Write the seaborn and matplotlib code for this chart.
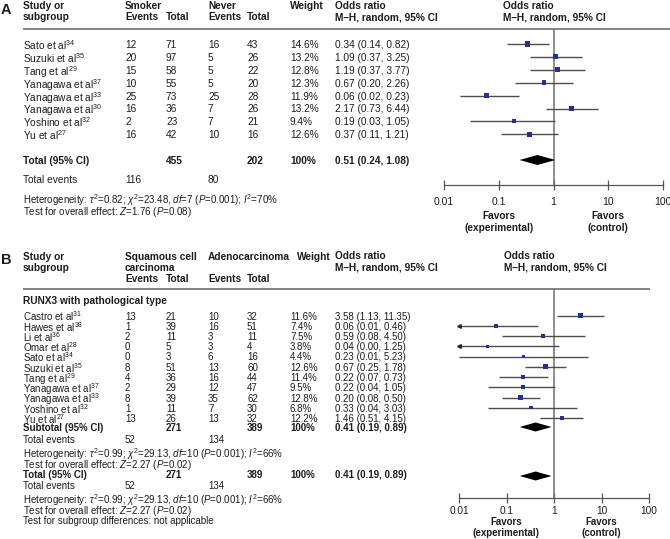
import matplotlib
matplotlib.use("Agg")
import matplotlib.pyplot as plt
import numpy as np
import pandas as pd
import seaborn as sns

# ---- panel A: smoker vs never ----
a_studies = ["Sato et al$^{34}$", "Suzuki et al$^{35}$", "Tang et al$^{29}$", "Yanagawa et al$^{37}$",
             "Yanagawa et al$^{33}$", "Yanagawa et al$^{30}$", "Yoshino et al$^{32}$", "Yu et al$^{27}$"]
a_smoker_events = [12, 20, 15, 10, 25, 16, 2, 16]
a_smoker_total = [71, 97, 58, 55, 73, 36, 23, 42]
a_never_events = [16, 5, 5, 5, 25, 7, 7, 10]
a_never_total = [43, 26, 22, 20, 28, 26, 21, 16]
a_weight = [14.6, 13.2, 12.8, 12.3, 11.9, 13.2, 9.4, 12.6]
a_or = [0.34, 1.09, 1.19, 0.67, 0.06, 2.17, 0.19, 0.37]
a_lo = [0.14, 0.37, 0.37, 0.20, 0.02, 0.73, 0.03, 0.11]
a_hi = [0.82, 3.25, 3.77, 2.26, 0.23, 6.44, 1.05, 1.21]
a_total_n = [455, 202]
a_total_events = [116, 80]
a_pooled = [0.51, 0.24, 1.08]
a_het = r"Heterogeneity: $\tau^2$=0.82; $\chi^2$=23.48, $df$=7 ($P$=0.001); $I^2$=70%"
a_effect = r"Test for overall effect: $Z$=1.76 ($P$=0.08)"

# ---- panel B: squamous vs adeno ----
b_studies = ["Castro et al$^{31}$", "Hawes et al$^{38}$", "Li et al$^{36}$", "Omar et al$^{28}$",
             "Sato et al$^{34}$", "Suzuki et al$^{35}$", "Tang et al$^{29}$", "Yanagawa et al$^{37}$",
             "Yanagawa et al$^{33}$", "Yoshino et al$^{32}$", "Yu et al$^{27}$"]
b_sq_events = [13, 1, 2, 0, 0, 8, 4, 2, 8, 1, 13]
b_sq_total = [21, 39, 11, 5, 3, 51, 36, 29, 39, 11, 26]
b_ad_events = [10, 16, 3, 3, 6, 13, 16, 12, 35, 7, 13]
b_ad_total = [32, 51, 11, 4, 16, 60, 44, 47, 62, 30, 32]
b_weight = [11.6, 7.4, 7.5, 3.8, 4.4, 12.6, 11.4, 9.5, 12.8, 6.8, 12.2]
b_or = [3.58, 0.06, 0.59, 0.04, 0.23, 0.67, 0.22, 0.22, 0.20, 0.33, 1.46]
b_lo = [1.13, 0.01, 0.08, 0.00, 0.01, 0.25, 0.07, 0.04, 0.08, 0.04, 0.51]
b_hi = [11.35, 0.46, 4.50, 1.25, 5.23, 1.78, 0.73, 1.05, 0.50, 3.03, 4.15]
b_arrow_left = [False, True, False, True, False, False, False, False, False, False, False]
b_total_n = [271, 389]
b_total_events = [52, 134]
b_pooled = [0.41, 0.19, 0.89]
b_het = r"Heterogeneity: $\tau^2$=0.99; $\chi^2$=29.13, $df$=10 ($P$=0.001); $I^2$=66%"
b_effect = r"Test for overall effect: $Z$=2.27 ($P$=0.02)"

tick_values = [0.01, 0.1, 1, 10, 100]
tick_labels = ["0.01", "0.1", "1", "10", "100"]

W, H = 670, 539
INK = "#1c1c1c"
SQUARE = "#26308f"
CI_LINE = "#4d4d4d"
RULE = "#7a7a7a"
FS_A = 7.3
FS_B = 7.0

sns.set_theme(style="white")
plt.rcParams["font.family"] = ["Liberation Sans", "DejaVu Sans"]
plt.rcParams["mathtext.fontset"] = "custom"
plt.rcParams["mathtext.rm"] = "Liberation Sans"
plt.rcParams["mathtext.it"] = "Liberation Sans:italic"
plt.rcParams["mathtext.bf"] = "Liberation Sans:bold"

fig = plt.figure(figsize=(6.7, 5.39), dpi=100)
bg = fig.add_axes([0, 0, 1, 1])
bg.set_xlim(0, W)
bg.set_ylim(H, 0)
bg.axis("off")


def txt(x, y, s, bold=False, size=FS_A, ha="left"):
    bg.text(x, y, s, fontsize=size, fontweight="bold" if bold else "normal",
            ha=ha, va="center_baseline", color=INK)


def forest_axes(x0, x1, y0, y1):
    ax = fig.add_axes([x0 / W, 1 - y1 / H, (x1 - x0) / W, (y1 - y0) / H])
    ax.patch.set_alpha(0)
    return ax


def finish_forest(ax, y0, y1, pad, labelsize):
    ax.set_xscale("log")
    ax.set_xlim(0.01, 100)
    ax.set_ylim(y1, y0)
    ax.plot([1, 1], [y0, y1], color="#707070", lw=1.1, zorder=1)
    for side in ("left", "right", "top"):
        ax.spines[side].set_visible(False)
    ax.spines["bottom"].set_color("#555555")
    ax.spines["bottom"].set_linewidth(0.9)
    ax.set_yticks([])
    ax.set_xticks(tick_values)
    ax.set_xticklabels(tick_labels)
    ax.xaxis.set_minor_locator(matplotlib.ticker.NullLocator())
    ax.tick_params(axis="x", direction="inout", length=7, width=0.9, color="#555555",
                   labelsize=labelsize, pad=pad, labelcolor=INK, bottom=True)
    ax.set_xlabel("")
    ax.set_ylabel("")


def draw_studies(ax, rows, ors, los, his, weights, sizes, arrows=None):
    df = pd.DataFrame({"y": rows, "or": ors, "lo": np.clip(los, 0.01, None),
                       "hi": his, "weight": weights})
    ax.hlines(df["y"], df["lo"], df["hi"], color=CI_LINE, lw=1.0, zorder=2)
    sns.scatterplot(data=df, x="or", y="y", size="weight", sizes=sizes, marker="s",
                    color=SQUARE, linewidth=0, legend=False, ax=ax, zorder=3)
    if arrows is not None:
        for yy, flag in zip(rows, arrows):
            if flag:
                ax.plot(0.01, yy, marker="<", ms=2.6, color="#222222", clip_on=False, zorder=3)


def diamond(ax, y, pooled, half):
    est, lo, hi = pooled
    ax.fill([lo, est, hi, est], [y, y - half, y, y + half], color="black", lw=0, zorder=3)


def fmt_or(o, l, h):
    return f"{o:.2f} ({l:.2f}, {h:.2f})"


# column x positions
X_STUDY, X_E1, X_T1, X_E2, X_T2, X_W, X_OR, X_PLOT = 23, 125, 166, 208, 247, 290, 335, 503

# ================= Panel A =================
txt(1, 8, "A", bold=True, size=10.5)
txt(X_STUDY, 5, "Study or", bold=True)
txt(X_STUDY, 16, "subgroup", bold=True)
txt(X_E1, 5, "Smoker", bold=True)
txt(X_E1, 16, "Events", bold=True)
txt(X_T1, 16, "Total", bold=True)
txt(X_E2, 5, "Never", bold=True)
txt(X_E2, 16, "Events", bold=True)
txt(X_T2, 16, "Total", bold=True)
txt(X_W, 5, "Weight", bold=True)
for xx in (X_OR, X_PLOT):
    txt(xx, 5, "Odds ratio", bold=True)
    txt(xx, 16, "M\u2013H, random, 95% CI", bold=True)
bg.hlines(29, X_STUDY, W, color=RULE, lw=1.3)

a_rows = 44 + 12.9 * np.arange(len(a_studies))
for i, yy in enumerate(a_rows):
    txt(X_STUDY, yy, a_studies[i])
    txt(X_E1, yy, str(a_smoker_events[i]))
    txt(X_T1, yy, str(a_smoker_total[i]))
    txt(X_E2, yy, str(a_never_events[i]))
    txt(X_T2, yy, str(a_never_total[i]))
    txt(X_W, yy, f"{a_weight[i]:.1f}%")
    txt(X_OR, yy, fmt_or(a_or[i], a_lo[i], a_hi[i]))

txt(X_STUDY, 160, "Total (95% CI)", bold=True)
txt(X_T1, 160, str(a_total_n[0]), bold=True)
txt(X_T2, 160, str(a_total_n[1]), bold=True)
txt(X_W, 160, "100%", bold=True)
txt(X_OR, 160, fmt_or(*a_pooled), bold=True)
txt(X_STUDY, 179, "Total events")
txt(X_E1, 179, str(a_total_events[0]))
txt(X_E2, 179, str(a_total_events[1]))
txt(X_STUDY, 198, a_het, size=7.0)
txt(X_STUDY, 210, a_effect, size=7.0)

axA = forest_axes(444, 663, 29, 185)
draw_studies(axA, a_rows, a_or, a_lo, a_hi, a_weight, (8, 14))
diamond(axA, 160, a_pooled, 5)
finish_forest(axA, 29, 185, 5, 7.5)
txt(499, 215, "Favors", bold=True, ha="center")
txt(499, 227, "(experimental)", bold=True, ha="center")
txt(608, 215, "Favors", bold=True, ha="center")
txt(608, 227, "(control)", bold=True, ha="center")

# ================= Panel B =================
txt(1, 258, "B", bold=True, size=10.5)
txt(X_STUDY, 256, "Study or", bold=True)
txt(X_STUDY, 267, "subgroup", bold=True)
txt(X_E1, 256, "Squamous cell", bold=True)
txt(X_E1, 267, "carcinoma", bold=True)
txt(X_E2, 256, "Adenocarcinoma", bold=True)
txt(297, 256, "Weight", bold=True)
for xx in (X_E1, X_E2):
    txt(xx, 278, "Events", bold=True)
txt(X_T1, 278, "Total", bold=True)
txt(X_T2, 278, "Total", bold=True)
for xx in (X_OR, X_PLOT + 1):
    txt(xx, 255, "Odds ratio", bold=True)
    txt(xx, 266, "M\u2013H, random, 95% CI", bold=True)
bg.hlines(289, X_STUDY, 650, color=RULE, lw=1.3)
txt(X_STUDY, 300, "RUNX3 with pathological type", bold=True)

b_rows = 315.5 + 10.25 * np.arange(len(b_studies))
for i, yy in enumerate(b_rows):
    txt(X_STUDY, yy, b_studies[i], size=FS_B)
    txt(X_E1, yy, str(b_sq_events[i]), size=FS_B)
    txt(X_T1, yy, str(b_sq_total[i]), size=FS_B)
    txt(X_E2, yy, str(b_ad_events[i]), size=FS_B)
    txt(X_T2, yy, str(b_ad_total[i]), size=FS_B)
    txt(X_W, yy, f"{b_weight[i]:.1f}%", size=FS_B)
    txt(X_OR, yy, fmt_or(b_or[i], b_lo[i], b_hi[i]), size=FS_B)

for y_tot, y_ev, y_het, y_eff, label in ((427, 439, 452, 463, "Subtotal (95% CI)"),
                                         (474, 485, 498, 509, "Total (95% CI)")):
    txt(X_STUDY, y_tot, label, bold=True, size=FS_B)
    txt(X_T1, y_tot, str(b_total_n[0]), bold=True, size=FS_B)
    txt(X_T2, y_tot, str(b_total_n[1]), bold=True, size=FS_B)
    txt(X_W, y_tot, "100%", bold=True, size=FS_B)
    txt(X_OR, y_tot, fmt_or(*b_pooled), bold=True, size=FS_B)
    txt(X_STUDY, y_ev, "Total events", size=FS_B)
    txt(X_E1, y_ev, str(b_total_events[0]), size=FS_B)
    txt(X_E2, y_ev, str(b_total_events[1]), size=FS_B)
    txt(X_STUDY, y_het, b_het, size=FS_B)
    txt(X_STUDY, y_eff, b_effect, size=FS_B)
txt(X_STUDY, 520, "Test for subgroup differences: not applicable", size=FS_B)

axB = forest_axes(459, 649, 289, 498)
draw_studies(axB, b_rows, b_or, b_lo, b_hi, b_weight, (4, 11), b_arrow_left)
diamond(axB, 427, b_pooled, 4.5)
diamond(axB, 476, b_pooled, 4.5)
finish_forest(axB, 289, 498, 2.2, 7.3)
txt(506, 521, "Favors", bold=True, ha="center", size=FS_B)
txt(506, 532, "(experimental)", bold=True, ha="center", size=FS_B)
txt(601, 521, "Favors", bold=True, ha="center", size=FS_B)
txt(601, 532, "(control)", bold=True, ha="center", size=FS_B)

fig.savefig("out.png", dpi=100, facecolor="white")
plt.close(fig)
